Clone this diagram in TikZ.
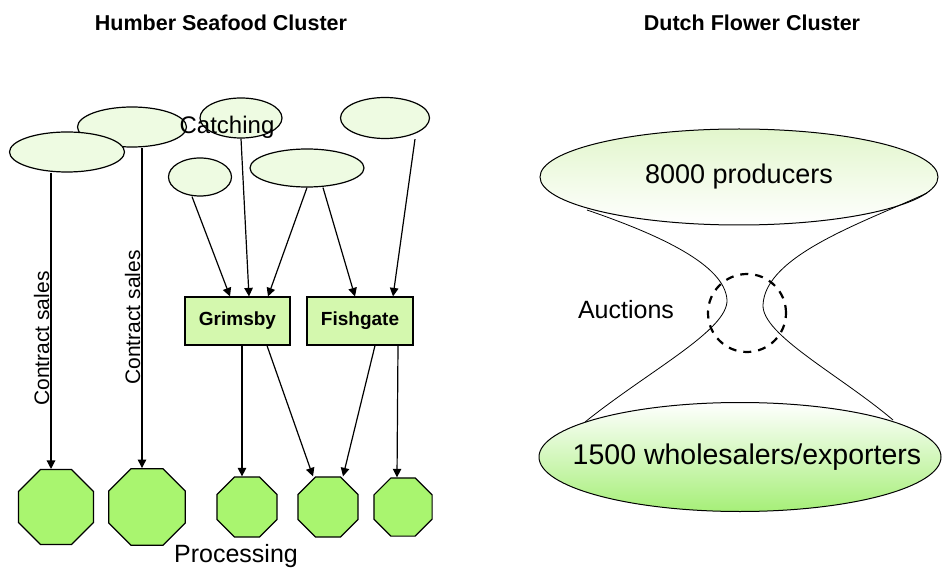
\documentclass[tikz,border=0pt]{standalone}
\usepackage{fontspec}
\setmainfont{Liberation Sans}
\usetikzlibrary{arrows.meta,shapes.geometric}
\definecolor{catchfill}{HTML}{EEFBE2}
\definecolor{portfill}{HTML}{D4F8AE}
\definecolor{procfill}{HTML}{A9F56F}
\definecolor{flowtop}{HTML}{E2F6CC}
\definecolor{flowbot}{HTML}{A6EF78}
\newcommand{\px}[1]{\fontsize{#1}{#1}\selectfont}
\begin{document}
\begin{tikzpicture}[x=1pt,y=-1pt,
    catch/.style={ellipse,draw,line width=1.2pt,fill=catchfill,inner sep=0pt},
    port/.style={rectangle,draw,line width=1.2pt,fill=portfill,
      minimum height=48pt,font=\px{19}\bfseries},
    proc/.style={regular polygon,regular polygon sides=8,draw,line width=1.2pt,
      fill=procfill,inner sep=0pt},
    arr/.style={line width=1.2pt,-{Triangle[width=8.5pt,length=8.5pt]}},
    lab/.style={rotate=90,anchor=south,inner sep=1pt,font=\px{21}},
    flow/.style={ellipse,draw,line width=1pt,inner sep=0pt}]
  \useasboundingbox (0,0) rectangle (942,569);
  % titles
  \node[font=\px{21.5}\bfseries] (t1) at (221,23) {Humber Seafood Cluster};
  \node[font=\px{21.5}\bfseries] (t2) at (752,23) {Dutch Flower Cluster};
  % catching
  \foreach \n/\x/\y/\w/\h in {c2/132/127/109/40, c1/67/152/115/40,
      c3/241/118/82/40, c4/200/177/63/38, c5/307/168/114/38, c6/385/118/89/41}
    \node[catch,minimum width=\w pt,minimum height=\h pt] (\n) at (\x,\y) {};
  \node[font=\px{24}] (catching) at (227,127) {Catching};
  % ports
  \node[port,minimum width=105pt] (gr) at (237.5,321) {Grimsby};
  \node[port,minimum width=106pt] (fg) at (360,321) {Fishgate};
  % processing
  \foreach \n/\x/\s in {o1/56/81, o2/147/83, o3/247/65, o4/328/65, o5/403/63}
    \node[proc,minimum size=\s pt] (\n) at (\x,507) {};
  \node[font=\px{25}] (processing) at (236,556) {Processing};
  \draw[arr] ([xshift=-16pt]c1.south) -- node[lab,pos=.56] {Contract sales} ([xshift=-5pt]o1.north);
  \draw[arr] ([xshift=10pt]c2.south) -- node[lab,pos=.53] {Contract sales} ([xshift=-5pt]o2.north);
  \draw[arr] ([xshift=-8pt]c4.south) -- ([xshift=-7.5pt]gr.north);
  \draw[arr] (c3.south) -- ([xshift=11.5pt]gr.north);
  \draw[arr] (c5.south) -- ([xshift=30.5pt]gr.north);
  \draw[arr] ([xshift=16pt]c5.south) -- ([xshift=-5pt]fg.north);
  \draw[arr] ([xshift=30pt]c6.south) -- ([xshift=33pt]fg.north);
  \draw[arr] ([xshift=4.5pt]gr.south) -- ([xshift=-5pt]o3.north);
  \draw[arr] ([xshift=29.5pt]gr.south) -- ([xshift=-15pt]o4.north);
  \draw[arr] ([xshift=15pt]fg.south) -- ([xshift=15pt]o4.north);
  \draw[arr] ([xshift=38pt]fg.south) -- ([xshift=-6pt]o5.north);
  % flower cluster
  \node[flow,top color=flowtop,bottom color=white,minimum width=398pt,
    minimum height=96pt] (prod) at (739,177) {};
  \node[font=\px{27}] (prodtext) at (prod) {8000 producers};
  \node[flow,top color=white,bottom color=flowbot,minimum width=402pt,
    minimum height=109pt] (whole) at (740,457) {};
  \node[font=\px{28.5}] (wholetext) at (747,457) {1500 wholesalers/exporters};
  \draw[line width=.8pt] (587,210) .. controls (660,235) and (725,265) .. (727,300)
    .. controls (728,330) and (650,370) .. (585,422);
  \draw[line width=.8pt] (927,193) .. controls (865,222) and (765,255) .. (763,305)
    .. controls (762,335) and (840,375) .. (893,420);
  \node[circle,draw,line width=2.2pt,dash pattern=on 8pt off 7pt,
    minimum size=78pt] (auc) at (747,313) {};
  \node[font=\px{25}] (auctions) at (626,310) {Auctions};
\end{tikzpicture}
\end{document}
